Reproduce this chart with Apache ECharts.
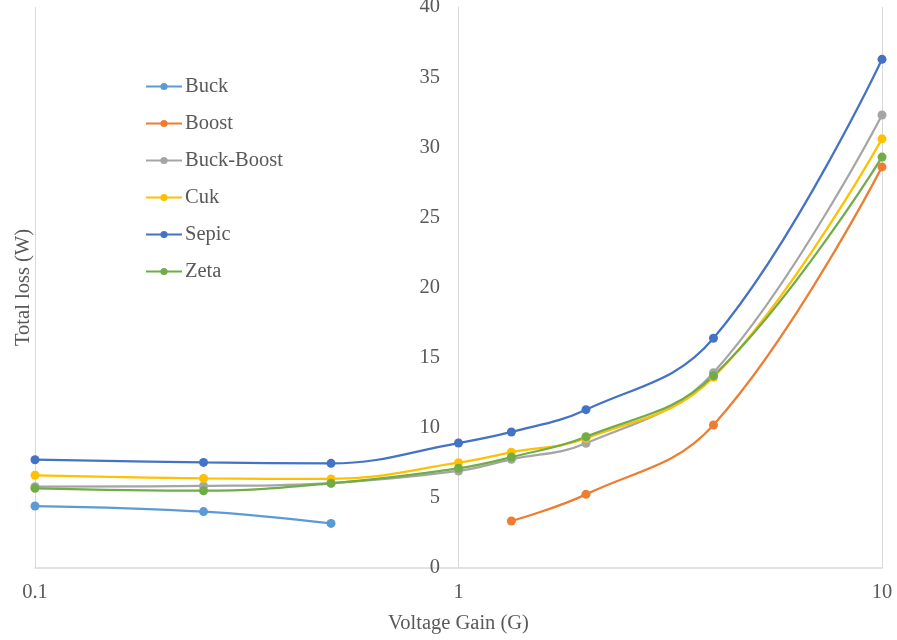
<!DOCTYPE html>
<html>
<head>
<meta charset="utf-8">
<script src="https://cdn.jsdelivr.net/npm/echarts@6/dist/echarts.min.js"></script>
<style>
  html, body { margin: 0; padding: 0; background: #fff; }
  #chart { width: 897px; height: 640px; }
</style>
</head>
<body>
<div id="chart"></div>
<script>
// Voltage gain values (G) at which losses were evaluated
const gains = [0.1, 0.25, 0.5, 1, 1.333, 2, 4, 10];

// Total loss (W) for each converter topology; null = not applicable
const buck      = [4.42, 4.02, 3.18, null, null, null, null, null];
const boost     = [null, null, null, null, 3.35, 5.25, 10.2, 28.6];
const buckBoost = [5.8, 5.85, 6.06, 6.92, 7.75, 8.89, 13.93, 32.3];
const cuk       = [6.61, 6.39, 6.35, 7.51, 8.25, 9.25, 13.6, 30.6];
const sepic     = [7.72, 7.53, 7.46, 8.91, 9.70, 11.29, 16.38, 36.27];
const zeta      = [5.68, 5.51, 6.04, 7.11, 7.91, 9.36, 13.71, 29.3];

const yTicks = [0, 5, 10, 15, 20, 25, 30, 35, 40];

const seriesDefs = [
  { name: 'Buck',       values: buck,      color: '#5B9BD5' },
  { name: 'Boost',      values: boost,     color: '#ED7D31' },
  { name: 'Buck-Boost', values: buckBoost, color: '#A5A5A5' },
  { name: 'Cuk',        values: cuk,       color: '#FFC000' },
  { name: 'Sepic',      values: sepic,     color: '#4472C4' },
  { name: 'Zeta',       values: zeta,      color: '#70AD47' }
];

const font = 'Liberation Serif, Times New Roman, serif';
const fontSize = 20.5;
const textColor = '#595959';
const gridColor = '#D9D9D9';

const chart = echarts.init(document.getElementById('chart'), null, { renderer: 'canvas' });

const series = seriesDefs.map(s => ({
  name: s.name,
  type: 'line',
  smooth: 0.4,
  symbol: 'circle',
  symbolSize: 9,
  showSymbol: true,
  lineStyle: { width: 2.25, color: s.color },
  itemStyle: { color: s.color },
  emphasis: { disabled: true },
  z: 3,
  data: gains.map((g, i) => [g, s.values[i]]).filter(p => p[1] !== null)
}));

chart.setOption({
  animation: false,
  textStyle: { fontFamily: font },
  grid: { left: 35, right: 15, top: 7, bottom: 72, containLabel: false, outerBoundsMode: 'none' },
  legend: {
    orient: 'vertical',
    left: 140,
    top: 71,
    itemGap: 16,
    itemWidth: 36,
    itemHeight: 9,
    textStyle: { fontFamily: font, fontSize: fontSize, color: textColor, padding: [0, 0, 0, -2] },
    data: seriesDefs.map(s => s.name)
  },
  xAxis: {
    type: 'log',
    logBase: 10,
    min: 0.1,
    max: 10,
    name: 'Voltage Gain (G)',
    nameLocation: 'middle',
    nameGap: 45,
    nameTextStyle: { fontFamily: font, fontSize: fontSize, color: textColor },
    axisLine: { show: true, lineStyle: { color: gridColor, width: 1.5 } },
    axisTick: { show: false },
    axisLabel: {
      fontFamily: font, fontSize: fontSize, color: textColor, margin: 14,
      formatter: v => String(+v.toPrecision(3))
    },
    splitLine: { show: true, lineStyle: { color: gridColor, width: 1 } },
    minorSplitLine: { show: false }
  },
  yAxis: {
    type: 'value',
    min: yTicks[0],
    max: yTicks[yTicks.length - 1],
    interval: 5,
    position: 'left',
    offset: -423,
    name: 'Total loss (W)',
    nameLocation: 'middle',
    nameRotate: 90,
    nameGap: 424,
    nameTextStyle: { fontFamily: font, fontSize: fontSize, color: textColor },
    axisLine: { show: true, onZero: false, lineStyle: { color: gridColor, width: 1 } },
    axisTick: { show: false },
    axisLabel: { fontFamily: font, fontSize: fontSize, color: textColor, margin: 18 },
    splitLine: { show: false }
  },
  series: series
});
</script>
</body>
</html>
